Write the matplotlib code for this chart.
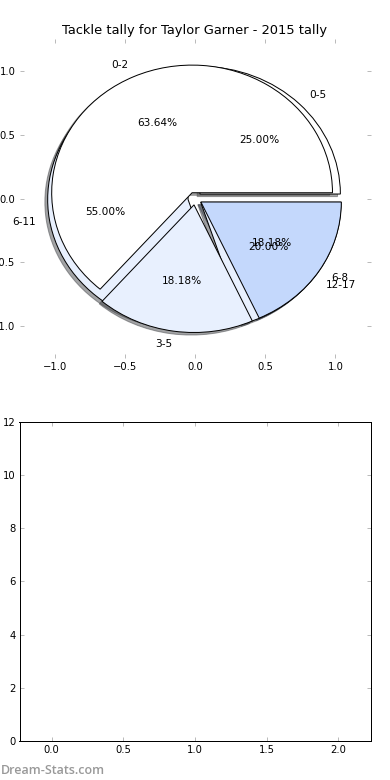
import matplotlib
matplotlib.use('Agg')
import matplotlib.pyplot as plt

# tackle counts per game bracket
labels_2015 = ['0-2', '3-5', '6-8']
games_2015 = [7, 2, 2]
labels_career = ['0-5', '6-11', '12-17']
games_career = [5, 11, 4]

colors_2015 = ['white', '#e8f0fe', '#c4d8fc']
colors_career = ['white', '#e8f0fe', '#e8f0fe']

player = 'Taylor Garner'
season = 2015

fig = plt.figure(figsize=(390 / 72, 780 / 72), dpi=72)
fig.subplots_adjust(left=0.05, right=0.95, bottom=0.05, top=0.95, hspace=0.2)
ax1 = fig.add_subplot(2, 1, 1)
ax2 = fig.add_subplot(2, 1, 2)

wedge_style = {'edgecolor': 'black', 'linewidth': 1}
text_style = {'fontsize': 10.5, 'color': 'black'}
shadow_style = {'ox': -0.02, 'oy': -0.02}

ax1.pie(games_career, labels=labels_career, colors=colors_career,
        explode=[0.05] * len(games_career), autopct='%.2f%%',
        shadow=shadow_style, wedgeprops=wedge_style, textprops=text_style)
ax1.pie(games_2015, labels=labels_2015, colors=colors_2015,
        explode=[0.05] * len(games_2015), autopct='%.2f%%',
        shadow=shadow_style, wedgeprops=wedge_style, textprops=text_style)

ax1.set_aspect('auto')
ax1.set_frame_on(False)
ax1.set_xlim(-1.25, 1.25)
ax1.set_ylim(-1.25, 1.25)
ax1.set_xticks([-1.0, -0.5, 0.0, 0.5, 1.0])
ax1.set_yticks([-1.0, -0.5, 0.0, 0.5, 1.0])
ax1.set_title(f'Tackle tally for {player} - {season} tally', fontsize=13, pad=5)

ax2.set_xlim(-0.225, 2.225)
ax2.set_ylim(0, 12)
ax2.set_xticks([0.0, 0.5, 1.0, 1.5, 2.0])
ax2.set_yticks(range(0, 13, 2))
for sp in ax2.spines.values():
    sp.set_linewidth(1)
    sp.set_color('black')

for ax in (ax1, ax2):
    ax.tick_params(direction='in', length=4, width=1, color='#bbbbbb',
                   labelsize=10, pad=4, top=True, right=True)

fig.text(0.002, 0.004, 'Dream-Stats.com', fontsize=12.5, color='#999999',
         family='Open Sans', weight='semibold', ha='left', va='bottom')

fig.savefig('out.png', dpi=72)
